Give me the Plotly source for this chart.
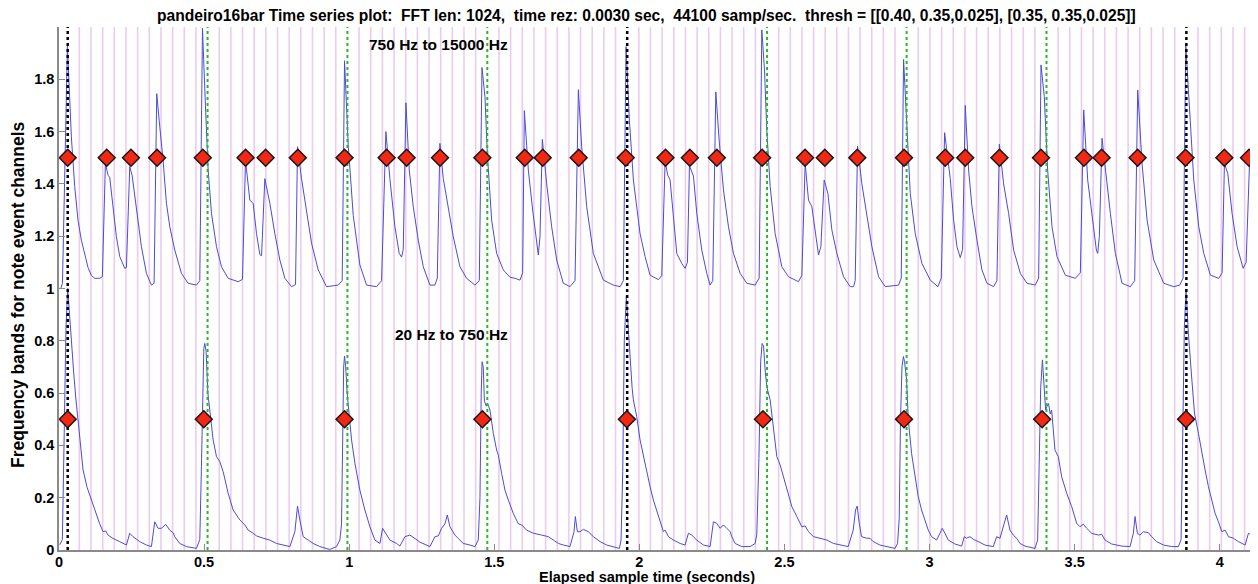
import plotly.graph_objects as go

# ---------------- data ----------------
# High band (750 Hz to 15000 Hz) envelope, offset by +1
upper_pts = [
    (0.006, 1.00), (0.012, 1.02), (0.020, 1.45), (0.026, 1.85), (0.029, 1.93), (0.034, 1.80),
    (0.0426, 1.58), (0.0541, 1.39), (0.0656, 1.26), (0.0771, 1.185), (0.0886, 1.13), (0.1001, 1.08),
    (0.1116, 1.05), (0.1231, 1.039), (0.1403, 1.039), (0.1495, 1.045), (0.1599, 1.478), (0.1691, 1.433),
    (0.1748, 1.425), (0.1863, 1.313), (0.1978, 1.198), (0.2093, 1.122), (0.2266, 1.077), (0.2323, 1.08),
    (0.2438, 1.466), (0.2519, 1.433), (0.2668, 1.30), (0.2840, 1.16), (0.3013, 1.058), (0.3185, 1.013),
    (0.3277, 1.02), (0.3369, 1.745), (0.3472, 1.619), (0.3587, 1.491), (0.3703, 1.326), (0.3818, 1.236),
    (0.3990, 1.147), (0.4220, 1.058), (0.4450, 1.020), (0.4736, 1.013), (0.4852, 1.03), (0.4944, 1.995),
    (0.5047, 1.70), (0.5140, 1.453), (0.5255, 1.287), (0.5427, 1.16), (0.5599, 1.083), (0.5829, 1.039),
    (0.6174, 1.026), (0.6323, 1.035), (0.6427, 1.49), (0.6576, 1.338), (0.6691, 1.325), (0.6806, 1.21),
    (0.6921, 1.13), (0.6980, 1.125), (0.7093, 1.42), (0.7266, 1.326), (0.7438, 1.21), (0.7611, 1.109),
    (0.7783, 1.039), (0.8013, 1.007), (0.8151, 1.015), (0.8220, 1.542), (0.8358, 1.42), (0.8530, 1.287),
    (0.8703, 1.173), (0.8933, 1.071), (0.9220, 1.007), (0.9622, 1.013), (0.9759, 1.03), (0.9840, 1.871),
    (0.9966, 1.55), (1.0139, 1.28), (1.0369, 1.09), (1.0599, 1.013), (1.0944, 1.007), (1.1116, 1.03),
    (1.1265, 1.60), (1.1403, 1.42), (1.1576, 1.236), (1.1725, 1.134), (1.1806, 1.12), (1.1863, 1.15),
    (1.1955, 1.71), (1.2070, 1.453), (1.2208, 1.313), (1.2380, 1.185), (1.2553, 1.083), (1.2783, 1.013),
    (1.2955, 1.013), (1.3036, 1.04), (1.3127, 1.555), (1.3243, 1.42), (1.3415, 1.30), (1.3587, 1.198),
    (1.3817, 1.083), (1.4047, 1.039), (1.4334, 1.013), (1.4484, 1.03), (1.4576, 1.845), (1.4679, 1.733),
    (1.4760, 1.517), (1.4909, 1.262), (1.5082, 1.134), (1.5311, 1.071), (1.5541, 1.043), (1.5714, 1.039),
    (1.5886, 1.032), (1.5978, 1.06), (1.6036, 1.68), (1.6174, 1.453), (1.6323, 1.30), (1.6461, 1.16),
    (1.6518, 1.128), (1.6576, 1.20), (1.6656, 1.57), (1.6806, 1.40), (1.6978, 1.236), (1.7151, 1.109),
    (1.7380, 1.02), (1.7610, 1.007), (1.7783, 1.03), (1.7898, 1.76), (1.8013, 1.542), (1.8185, 1.313),
    (1.8415, 1.134), (1.8760, 1.032), (1.9105, 1.013), (1.9335, 1.007), (1.9449, 1.03), (1.9541, 1.925),
    (1.9656, 1.644), (1.9794, 1.415), (2.0024, 1.21), (2.0197, 1.122), (2.0369, 1.051), (2.0657, 1.034),
    (2.0772, 1.05), (2.0887, 1.485), (2.0979, 1.433), (2.1059, 1.415), (2.1174, 1.262), (2.1289, 1.134),
    (2.1461, 1.096), (2.1576, 1.077), (2.1657, 1.10), (2.1726, 1.47), (2.1864, 1.43), (2.1979, 1.287),
    (2.2151, 1.147), (2.2323, 1.058), (2.2438, 1.013), (2.2530, 1.03), (2.2634, 1.752), (2.2749, 1.568),
    (2.2898, 1.377), (2.3071, 1.236), (2.3243, 1.134), (2.3473, 1.058), (2.3703, 1.020), (2.3990, 1.013),
    (2.4128, 1.04), (2.4220, 1.989), (2.4312, 1.836), (2.4392, 1.606), (2.4507, 1.39), (2.4680, 1.21),
    (2.4910, 1.083), (2.5139, 1.045), (2.5484, 1.026), (2.5599, 1.05), (2.5714, 1.478), (2.5829, 1.338),
    (2.5944, 1.313), (2.6059, 1.21), (2.6174, 1.128), (2.6255, 1.16), (2.6369, 1.415), (2.6496, 1.364),
    (2.6634, 1.224), (2.6806, 1.134), (2.7036, 1.045), (2.7266, 1.007), (2.7381, 1.007), (2.7438, 1.03),
    (2.7519, 1.544), (2.7668, 1.40), (2.7841, 1.287), (2.8013, 1.16), (2.8243, 1.045), (2.8473, 1.007),
    (2.8933, 1.013), (2.9025, 1.04), (2.9105, 1.876), (2.9220, 1.619), (2.9335, 1.364), (2.9507, 1.21),
    (2.9737, 1.096), (3.0025, 1.032), (3.0289, 1.007), (3.0404, 1.04), (3.0519, 1.596), (3.0714, 1.42),
    (3.0829, 1.262), (3.0944, 1.16), (3.1059, 1.118), (3.1139, 1.15), (3.1231, 1.70), (3.1346, 1.453),
    (3.1461, 1.313), (3.1634, 1.185), (3.1806, 1.071), (3.1978, 1.020), (3.2208, 1.007), (3.2323, 1.03),
    (3.2404, 1.552), (3.2553, 1.40), (3.2725, 1.287), (3.2898, 1.147), (3.3128, 1.058), (3.3358, 1.020),
    (3.3645, 1.013), (3.3760, 1.04), (3.3841, 1.855), (3.3955, 1.733), (3.4070, 1.453), (3.4220, 1.236),
    (3.4392, 1.122), (3.4680, 1.051), (3.5025, 1.039), (3.5197, 1.06), (3.5312, 1.683), (3.5450, 1.415),
    (3.5599, 1.287), (3.5749, 1.147), (3.5795, 1.134), (3.5852, 1.20), (3.5944, 1.574), (3.6093, 1.42),
    (3.6231, 1.287), (3.6404, 1.134), (3.6634, 1.020), (3.6921, 1.007), (3.7070, 1.03), (3.7174, 1.759),
    (3.7323, 1.478), (3.7496, 1.262), (3.7726, 1.109), (3.8070, 1.02), (3.8415, 1.007), (3.8622, 1.013),
    (3.8737, 1.04), (3.8829, 1.931), (3.8967, 1.669), (3.9105, 1.415), (3.9277, 1.236), (3.9450, 1.134),
    (3.9680, 1.051), (3.9967, 1.039), (4.0082, 1.06), (4.0162, 1.478), (4.0277, 1.44), (4.0426, 1.287),
    (4.0599, 1.16), (4.0806, 1.077), (4.0910, 1.10), (4.1024, 1.472), (4.1151, 1.39), (4.125, 1.33),
]

# Low band (20 Hz to 750 Hz) envelope
lower_pts = [
    (0.0024, 0.02), (0.0116, 0.04), (0.018, 0.45), (0.024, 0.85), (0.030, 1.0), (0.036, 0.90),
    (0.0427, 0.80), (0.0507, 0.677), (0.0576, 0.585), (0.0714, 0.421), (0.0829, 0.306), (0.0967, 0.24),
    (0.1116, 0.191), (0.1289, 0.14), (0.1403, 0.10), (0.1518, 0.07), (0.1610, 0.073), (0.1691, 0.057),
    (0.1863, 0.044), (0.2093, 0.032), (0.2323, 0.019), (0.2438, 0.064), (0.2553, 0.051), (0.2783, 0.032),
    (0.3013, 0.019), (0.3185, 0.013), (0.3300, 0.108), (0.3415, 0.083), (0.3530, 0.083), (0.3679, 0.098),
    (0.3818, 0.076), (0.3932, 0.066), (0.3990, 0.051), (0.4162, 0.025), (0.4392, 0.013), (0.4737, 0.006),
    (0.4852, 0.04), (0.4909, 0.32), (0.495, 0.60), (0.499, 0.77), (0.5024, 0.79), (0.507, 0.76),
    (0.513, 0.60), (0.5312, 0.421), (0.5427, 0.357), (0.5541, 0.338), (0.5656, 0.30), (0.5829, 0.217),
    (0.6001, 0.153), (0.6231, 0.115), (0.6404, 0.096), (0.6519, 0.076), (0.6691, 0.064), (0.6806, 0.054),
    (0.7036, 0.045), (0.7266, 0.038), (0.7496, 0.025), (0.7726, 0.019), (0.7956, 0.013), (0.8128, 0.07),
    (0.8220, 0.168), (0.8300, 0.115), (0.8415, 0.051), (0.8588, 0.038), (0.8760, 0.025), (0.8990, 0.013),
    (0.9335, 0.002), (0.9564, 0.013), (0.9679, 0.038), (0.9737, 0.10), (0.978, 0.50), (0.981, 0.70),
    (0.984, 0.742), (0.988, 0.70), (0.993, 0.60), (1.0082, 0.421), (1.0197, 0.332), (1.0369, 0.229),
    (1.0541, 0.153), (1.0714, 0.089), (1.0887, 0.038), (1.1059, 0.025), (1.1151, 0.083), (1.1231, 0.070),
    (1.1403, 0.038), (1.1633, 0.025), (1.1748, 0.015), (1.1921, 0.051), (1.2093, 0.057), (1.2266, 0.044),
    (1.2438, 0.030), (1.2783, 0.013), (1.2955, 0.051), (1.3070, 0.054), (1.3185, 0.083), (1.3300, 0.10),
    (1.3381, 0.134), (1.3472, 0.089), (1.3587, 0.064), (1.3645, 0.057), (1.3760, 0.044), (1.3932, 0.025),
    (1.4162, 0.019), (1.4334, 0.013), (1.4449, 0.038), (1.4507, 0.20), (1.455, 0.60), (1.458, 0.72),
    (1.462, 0.70), (1.466, 0.57), (1.472, 0.55), (1.477, 0.56), (1.4852, 0.535), (1.4967, 0.446),
    (1.5082, 0.382), (1.5139, 0.363), (1.5254, 0.293), (1.5369, 0.229), (1.5484, 0.191), (1.5656, 0.14),
    (1.5829, 0.10), (1.5944, 0.096), (1.6116, 0.076), (1.6346, 0.064), (1.6633, 0.057), (1.6863, 0.051),
    (1.7036, 0.038), (1.7208, 0.025), (1.7380, 0.019), (1.7610, 0.013), (1.7748, 0.070), (1.7794, 0.128),
    (1.7863, 0.070), (1.7955, 0.070), (1.8070, 0.079), (1.8242, 0.070), (1.8415, 0.051), (1.8645, 0.032),
    (1.8875, 0.019), (1.9105, 0.013), (1.9311, 0.006), (1.9369, 0.038), (1.9427, 0.30), (1.948, 0.80),
    (1.955, 0.97), (1.960, 0.88), (1.968, 0.72), (1.975, 0.62), (1.9794, 0.574), (1.9909, 0.510),
    (2.0024, 0.421), (2.0139, 0.357), (2.0254, 0.293), (2.0369, 0.242), (2.0484, 0.191), (2.0599, 0.153),
    (2.0714, 0.108), (2.0829, 0.070), (2.0886, 0.076), (2.1001, 0.051), (2.1174, 0.038), (2.1404, 0.025),
    (2.1576, 0.019), (2.1691, 0.064), (2.1806, 0.057), (2.1978, 0.038), (2.2208, 0.019), (2.2438, 0.013),
    (2.2553, 0.108), (2.2668, 0.102), (2.2783, 0.083), (2.2898, 0.096), (2.3013, 0.083), (2.3128, 0.070),
    (2.3185, 0.051), (2.3300, 0.025), (2.3530, 0.013), (2.3817, 0.013), (2.3990, 0.025), (2.4047, 0.06),
    (2.412, 0.35), (2.418, 0.72), (2.423, 0.79), (2.428, 0.78), (2.434, 0.68), (2.440, 0.62),
    (2.4507, 0.574), (2.4622, 0.472), (2.4737, 0.357), (2.4852, 0.325), (2.4967, 0.280), (2.5082, 0.229),
    (2.5254, 0.166), (2.5426, 0.128), (2.5599, 0.089), (2.5714, 0.092), (2.5829, 0.070), (2.6001, 0.051),
    (2.6231, 0.045), (2.6461, 0.038), (2.6691, 0.025), (2.6921, 0.019), (2.7197, 0.013), (2.7369, 0.076),
    (2.7450, 0.153), (2.7507, 0.168), (2.7576, 0.102), (2.7657, 0.051), (2.7829, 0.045), (2.7944, 0.045),
    (2.8059, 0.032), (2.8289, 0.019), (2.8519, 0.013), (2.8806, 0.006), (2.8898, 0.025), (2.8955, 0.12),
    (2.900, 0.50), (2.905, 0.70), (2.910, 0.74), (2.914, 0.72), (2.921, 0.65), (2.9266, 0.50),
    (2.9381, 0.369), (2.9496, 0.28), (2.9611, 0.204), (2.9726, 0.153), (2.9841, 0.115), (2.9955, 0.076),
    (3.0070, 0.051), (3.0243, 0.038), (3.0358, 0.064), (3.0438, 0.083), (3.0530, 0.064), (3.0645, 0.038),
    (3.0875, 0.023), (3.1105, 0.015), (3.1197, 0.051), (3.1277, 0.045), (3.1392, 0.051), (3.1507, 0.041),
    (3.1680, 0.032), (3.1909, 0.019), (3.2197, 0.013), (3.2312, 0.051), (3.2427, 0.045), (3.2542, 0.089),
    (3.2657, 0.134), (3.2772, 0.076), (3.2887, 0.057), (3.3002, 0.045), (3.3117, 0.025), (3.3289, 0.015),
    (3.3634, 0.006), (3.3726, 0.038), (3.3783, 0.30), (3.383, 0.62), (3.389, 0.727), (3.396, 0.60),
    (3.400, 0.535), (3.405, 0.55), (3.410, 0.56), (3.416, 0.52), (3.4208, 0.535), (3.4323, 0.382),
    (3.4438, 0.357), (3.4553, 0.28), (3.4726, 0.217), (3.4898, 0.166), (3.5070, 0.102), (3.5185, 0.089),
    (3.5300, 0.099), (3.5415, 0.083), (3.5588, 0.064), (3.5818, 0.057), (3.5933, 0.060), (3.6048, 0.038),
    (3.6277, 0.023), (3.6622, 0.015), (3.6910, 0.013), (3.7024, 0.064), (3.7082, 0.128), (3.7162, 0.064),
    (3.7254, 0.057), (3.7369, 0.070), (3.7542, 0.066), (3.7657, 0.051), (3.7829, 0.032), (3.8059, 0.019),
    (3.8346, 0.013), (3.8576, 0.013), (3.8668, 0.04), (3.872, 0.40), (3.878, 0.85), (3.884, 0.994),
    (3.892, 0.829), (3.904, 0.65), (3.913, 0.524), (3.9266, 0.446), (3.9381, 0.369), (3.9496, 0.306),
    (3.9611, 0.242), (3.9726, 0.191), (3.9841, 0.14), (3.9956, 0.108), (4.0070, 0.070), (4.0185, 0.076),
    (4.0300, 0.051), (4.0473, 0.045), (4.0645, 0.032), (4.0875, 0.019), (4.0990, 0.064), (4.1105, 0.057),
    (4.1231, 0.032),
]

# detected note events (seconds)
upper_onsets = [0.030, 0.1645, 0.248, 0.338, 0.4955, 0.643, 0.712, 0.823, 0.984, 1.129, 1.198, 1.313,
                1.459, 1.605, 1.667, 1.791, 1.953, 2.090, 2.174, 2.267, 2.423, 2.571, 2.639, 2.751,
                2.912, 3.054, 3.123, 3.241, 3.384, 3.532, 3.593, 3.717, 3.882, 4.016, 4.101]
lower_onsets = [0.030, 0.499, 0.984, 1.459, 1.957, 2.426, 2.912, 3.388, 3.884]
band_levels = [0.5, 1.5]

# beat grid (seconds); every 4th beat is a bar line, 12 subdivisions per beat
beat_times = [0.030, 0.512, 0.994, 1.476, 1.958, 2.440, 2.921, 3.403, 3.885, 4.367]
beats_per_bar = 4
subdivisions = 12

x_ticks = [0, 0.5, 1, 1.5, 2, 2.5, 3, 3.5, 4]
y_ticks = [0, 0.2, 0.4, 0.6, 0.8, 1.0, 1.2, 1.4, 1.6, 1.8]
x_max = 4.125
y_max = 2.0

NB2 = "\u00a0\u00a0"
title_text = ("pandeiro16bar Time series plot:" + NB2 + "FFT len: 1024," + NB2 + "time rez: 0.0030 sec," + NB2 +
              "44100 samp/sec." + NB2 + "thresh = [[0.40, 0.35,0.025], [0.35, 0.35,0.025]]")

# ---------------- build figure ----------------
FONT = "Liberation Sans, Arial, Helvetica, sans-serif"

def vlines(xs):
    X, Y = [], []
    for x in xs:
        X += [x, x, None]
        Y += [0, y_max, None]
    return X, Y

sub_lines, beat_lines, bar_lines = [], [], []
for i in range(len(beat_times) - 1):
    b0, b1 = beat_times[i], beat_times[i + 1]
    if b0 <= x_max:
        (bar_lines if i % beats_per_bar == 0 else beat_lines).append(b0)
    for k in range(1, subdivisions):
        s = b0 + (b1 - b0) * k / subdivisions
        if s <= x_max:
            sub_lines.append(s)

fig = go.Figure()

sx, sy = vlines(sub_lines)
fig.add_trace(go.Scatter(x=sx, y=sy, mode="lines", hoverinfo="skip",
                         line=dict(color="rgb(236,204,238)", width=1.6)))

ut, uy = zip(*upper_pts)
lt, ly = zip(*lower_pts)
fig.add_trace(go.Scatter(x=ut, y=uy, mode="lines", line=dict(color="rgb(75,75,220)", width=1)))
fig.add_trace(go.Scatter(x=lt, y=ly, mode="lines", line=dict(color="rgb(75,75,220)", width=1)))

gx, gy = vlines(beat_lines)
fig.add_trace(go.Scatter(x=gx, y=gy, mode="lines", hoverinfo="skip",
                         line=dict(color="rgb(40,185,40)", width=2, dash="dot")))
bx, by = vlines(bar_lines)
fig.add_trace(go.Scatter(x=bx, y=by, mode="lines", hoverinfo="skip",
                         line=dict(color="black", width=2.5, dash="dot")))

for onsets, level in ((upper_onsets, band_levels[1]), (lower_onsets, band_levels[0])):
    fig.add_trace(go.Scatter(x=onsets, y=[level] * len(onsets), mode="markers",
                             marker=dict(symbol="diamond", size=13, color="rgb(240,40,20)",
                                         line=dict(color="rgb(30,20,20)", width=1.5))))

axis_common = dict(showgrid=False, zeroline=False, showline=True, linecolor="#8a8a8a", linewidth=1.5,
                   ticks="inside", ticklen=6, tickcolor="#8a8a8a", tickwidth=1,
                   tickfont=dict(family=FONT, size=14.5, color="black"))

# the page body adds an 8 px offset, so the figure is 8 px smaller and margins shifted
fig.update_layout(
    width=1250, height=576,
    margin=dict(l=51, r=2, t=19, b=34),
    paper_bgcolor="white", plot_bgcolor="white",
    showlegend=False,
    font=dict(family=FONT, color="black"),
    xaxis=dict(range=[0, x_max], tickvals=x_ticks, ticktext=[f"<b>{v:g}</b>" for v in x_ticks],
               ticklabelstandoff=-2, **axis_common),
    yaxis=dict(range=[0, y_max], tickvals=y_ticks, ticktext=[f"<b>{v:g}</b>" for v in y_ticks],
               **axis_common),
    annotations=[
        dict(text="<b>" + title_text + "</b>", x=0.0802, y=1.0212, xref="paper", yref="paper",
             xanchor="left", yanchor="middle", showarrow=False,
             font=dict(family=FONT, size=15.6, color="black")),
        dict(text="<b>750 Hz to 15000 Hz</b>", x=1.06, y=1.935, xref="x", yref="y", xanchor="left",
             yanchor="middle", showarrow=False, font=dict(family=FONT, size=15.5, color="black")),
        dict(text="<b>20 Hz to 750 Hz</b>", x=1.152, y=0.825, xref="x", yref="y", xanchor="left",
             yanchor="middle", showarrow=False, font=dict(family=FONT, size=15.5, color="black")),
        dict(text="<b>Elapsed sample time (seconds)</b>", x=0.491, y=-0.0516, xref="paper", yref="paper",
             xanchor="center", yanchor="middle", showarrow=False,
             font=dict(family=FONT, size=14.5, color="black")),
        dict(text="<b>Frequency bands for note event channels</b>", x=-0.0343, y=0.4876, xref="paper",
             yref="paper", xanchor="center", yanchor="middle", textangle=-90, showarrow=False,
             font=dict(family=FONT, size=17.5, color="black")),
    ],
)

fig.write_html("out.html")
